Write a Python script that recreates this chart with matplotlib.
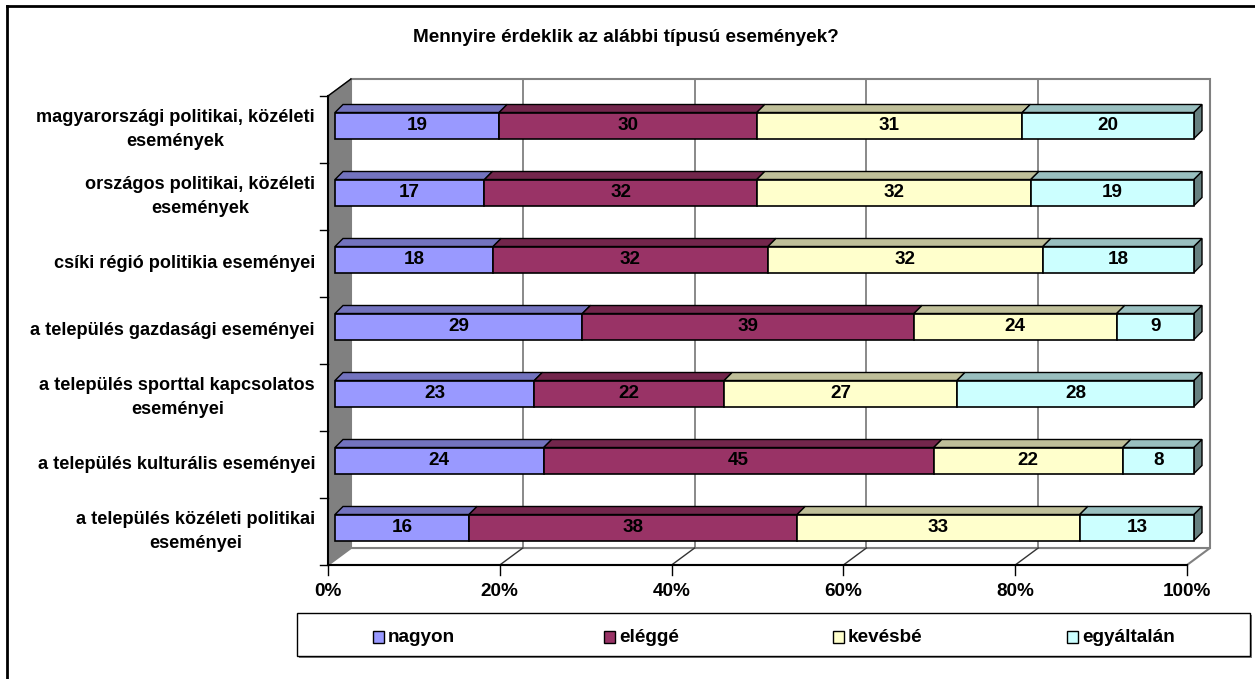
import matplotlib.pyplot as plt
from matplotlib.patches import Polygon, Rectangle
from matplotlib.lines import Line2D

plt.rcParams["font.family"] = ["Liberation Sans", "DejaVu Sans"]
plt.rcParams["font.weight"] = "bold"

title = "Mennyire érdeklik az alábbi típusú események?"
categories = [
    "magyarországi politikai, közéleti\nesemények",
    "országos politikai, közéleti\nesemények",
    "csíki régió politikia eseményei",
    "a település gazdasági eseményei",
    "a település sporttal kapcsolatos\neseményei",
    "a település kulturális eseményei",
    "a település közéleti politikai\neseményei",
]
series_names = ["nagyon", "eléggé", "kevésbé", "egyáltalán"]
nagyon = [19.1, 17.4, 18.4, 28.8, 23.2, 24.3, 15.6]
eleggé = [30.0, 31.7, 32.0, 38.6, 22.1, 45.4, 38.2]
kevesbe = [30.9, 31.9, 32.0, 23.6, 27.1, 22.0, 32.9]
egyaltalan = [20.0, 19.0, 17.6, 9.0, 27.6, 8.3, 13.3]
x_ticks = [0, 20, 40, 60, 80, 100]

front_colors = ["#9999FF", "#993366", "#FFFFCC", "#CCFFFF"]
top_colors = ["#7373BF", "#73264C", "#BFBF99", "#99BFBF"]
side_colors = ["#4D4D80", "#4D1A33", "#808066", "#668080"]

FS = 13.6
FS_CAT = 13.1
W, H = 1255, 679

# pixel scales of the 3d frame
SX = 859 / 100  # px per percent
SY = 67.0       # px per category
wall_dx, wall_dy = 23 / SX, 17 / SY
off_x, off_y = 7 / SX, 4 / SY
bar_dx, bar_dy = 8 / SX, 8 / SY
bar_h = 26 / SY

fig = plt.figure(figsize=(W / 100, H / 100), dpi=100)
ax = fig.add_axes([328 / W, 1 - 565 / H, 882 / W, 486 / H])
n = len(categories)
ax.set_xlim(0, 100 + wall_dx)
ax.set_ylim(-0.5, n - 0.5 + wall_dy)
ax.axis("off")

y_bot, y_top = -0.5, n - 0.5

# side wall
ax.add_patch(Polygon([(0, y_bot), (wall_dx, y_bot + wall_dy), (wall_dx, y_top + wall_dy), (0, y_top)],
                     closed=True, fc="#808080", ec="#808080", lw=1, zorder=1, clip_on=False))
# floor
ax.add_patch(Polygon([(0, y_bot), (100, y_bot), (100 + wall_dx, y_bot + wall_dy), (wall_dx, y_bot + wall_dy)],
                     closed=True, fc="white", ec="#808080", lw=1.5, zorder=1, clip_on=False))
# back wall
ax.add_patch(Rectangle((wall_dx, y_bot + wall_dy), 100, n, fc="white", ec="#808080", lw=1.5, zorder=1,
                       clip_on=False))
for t in x_ticks[1:-1]:
    ax.plot([t + wall_dx, t + wall_dx], [y_bot + wall_dy, y_top + wall_dy], color="#808080", lw=1.3, zorder=2,
            clip_on=False)
    ax.plot([t, t + wall_dx], [y_bot, y_bot + wall_dy], color="#333333", lw=1, zorder=2, clip_on=False)

# axis lines
ax.plot([0, 0], [y_bot, y_top], color="black", lw=1.5, zorder=3, clip_on=False)
ax.plot([0, wall_dx], [y_top, y_top + wall_dy], color="black", lw=1, zorder=3, clip_on=False)
ax.plot([0, 100], [y_bot, y_bot], color="black", lw=1.5, zorder=3, clip_on=False)
for k in range(n + 1):
    ax.plot([-8 / SX, 0], [y_bot + k, y_bot + k], color="black", lw=1, zorder=3, clip_on=False)
for t in x_ticks:
    ax.plot([t, t], [y_bot, y_bot - 10 / SY], color="black", lw=1, zorder=3, clip_on=False)
    ax.text(t, y_bot - 26 / SY, f"{t}%", ha="center", va="center", fontsize=FS, fontweight="bold")

for i, label in enumerate(categories):
    ax.text(-13 / SX, n - 1 - i, label, ha="right", va="center", fontsize=FS_CAT, fontweight="bold",
            multialignment="center", linespacing=1.55)

# bars
series = [nagyon, eleggé, kevesbe, egyaltalan]
for i in range(n):
    yc = n - 1 - i + off_y
    y0 = yc - bar_h / 2
    y1 = yc + bar_h / 2
    left = 0.0
    for s, vals in enumerate(series):
        v = vals[i]
        x0 = left + off_x
        x1 = left + v + off_x
        ax.add_patch(Polygon([(x0, y1), (x1, y1), (x1 + bar_dx, y1 + bar_dy), (x0 + bar_dx, y1 + bar_dy)],
                             closed=True, fc=top_colors[s], ec="black", lw=1, zorder=4, clip_on=False))
        ax.add_patch(Rectangle((x0, y0), v, bar_h, fc=front_colors[s], ec="black", lw=1.2, zorder=5,
                               clip_on=False))
        if s == len(series) - 1:
            ax.add_patch(Polygon([(x1, y0), (x1 + bar_dx, y0 + bar_dy), (x1 + bar_dx, y1 + bar_dy), (x1, y1)],
                                 closed=True, fc=side_colors[s], ec="black", lw=1, zorder=4, clip_on=False))
        ax.text((x0 + x1) / 2, yc, f"{v:.0f}", ha="center", va="center", fontsize=FS, fontweight="bold",
                zorder=6)
        left += v

fig.text(626 / W, 1 - 37 / H, title, ha="center", va="center", fontsize=FS, fontweight="bold")

# outer chart frame
fig.add_artist(Line2D([7 / W, 7 / W], [0, 1 - 6 / H], color="black", lw=2))
fig.add_artist(Line2D([7 / W, 1], [1 - 6 / H, 1 - 6 / H], color="black", lw=2))

# legend box
lx0, lx1, ly0, ly1 = 297, 1250, 613, 656
fig.add_artist(Rectangle(((lx0 + 2) / W, 1 - (ly1 + 2) / H), (lx1 - lx0) / W, (ly1 - ly0) / H,
                         fc="#808080", ec="none", transform=fig.transFigure))
fig.add_artist(Rectangle((lx0 / W, 1 - ly1 / H), (lx1 - lx0) / W, (ly1 - ly0) / H,
                         fc="white", ec="black", lw=1, transform=fig.transFigure))
legend_x = [373, 604, 833, 1067]
ly = 637
for s, name in enumerate(series_names):
    fig.add_artist(Rectangle((legend_x[s] / W, 1 - (ly + 6) / H), 11 / W, 12 / H, fc=front_colors[s],
                             ec="black", lw=1, transform=fig.transFigure))
    fig.text((legend_x[s] + 15) / W, 1 - ly / H, name, ha="left", va="center", fontsize=FS, fontweight="bold")

fig.savefig("out.png", dpi=100)
